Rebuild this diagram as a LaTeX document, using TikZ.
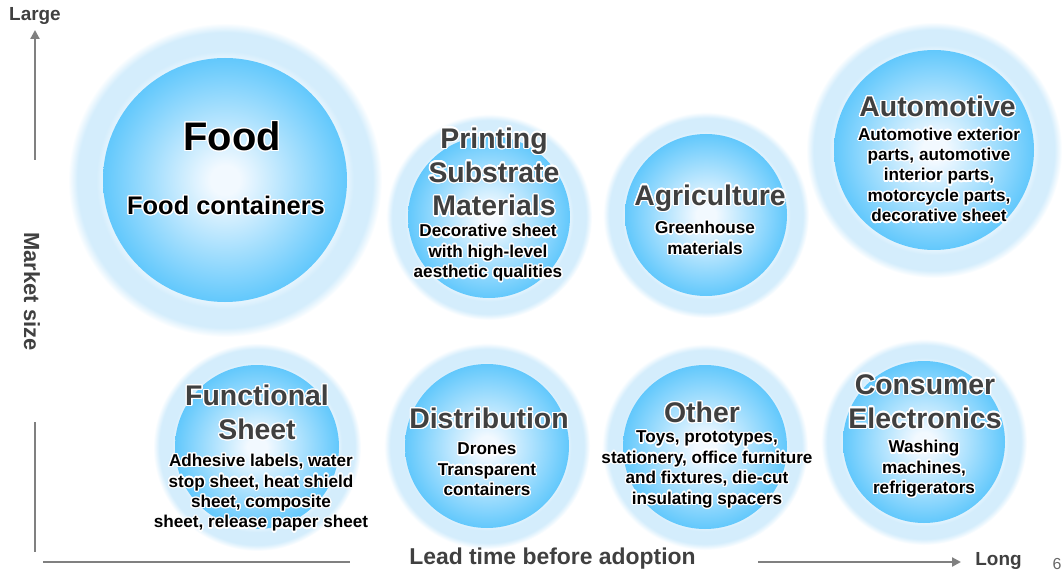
\documentclass[tikz,border=0pt]{standalone}
\usepackage{fontspec}
\setmainfont{Liberation Sans}
\usepackage{contour}
\contourlength{1.3pt}
\contournumber{20}
\usetikzlibrary{arrows.meta}
\definecolor{ballc}{RGB}{242,249,255}
\definecolor{balle}{RGB}{98,200,252}
\definecolor{ringc}{RGB}{212,237,252}
\definecolor{ringh}{RGB}{236,247,254}
\definecolor{tgray}{RGB}{64,64,64}
\definecolor{axisgray}{RGB}{128,128,128}
\pgfdeclareradialshading{ballshade}{\pgfpoint{0bp}{0bp}}{color(0bp)=(ballc); color(3bp)=(ballc); color(25bp)=(balle); color(50bp)=(balle)}
\pgfdeclareradialshading{ringshade}{\pgfpoint{0bp}{0bp}}{color(0bp)=(white); color(19bp)=(ringh); color(20.5bp)=(ringc); color(23.5bp)=(ringc); color(25bp)=(white); color(50bp)=(white)}
\newcommand\gw[1]{\contour{white}{#1}}
\begin{document}
\begin{tikzpicture}[x=1bp,y=-1bp,
  titlef/.style={font=\fontsize{28.5}{34}\selectfont\bfseries, text=tgray, align=center, inner sep=0pt},
  detailf/.style={font=\fontsize{17.2}{20.5}\selectfont\bfseries, text=black, align=center, inner sep=0pt},
  axislab/.style={font=\fontsize{19}{20}\selectfont\bfseries, text=tgray, inner sep=0pt},
  axisline/.style={draw=axisgray, line width=2.2bp},
  axisarrow/.style={axisline, -{Triangle[length=9bp,width=9bp]}}]
\useasboundingbox (0,0) rectangle (1062,574);
\fill[white] (0,0) rectangle (1062,574);
% circles: name/x/y/outer r
\foreach \n/\cx/\cy/\R in {food/225/180/157, print/489/217/103, agri/706/215/103, auto/934/150/128, func/257/447/104, dist/487/446/103, other/705/447/103, cons/924/442/103}{
  \coordinate (\n) at (\cx,\cy);
  \shade[shading=ringshade] (\n) circle (\R);
}
\foreach \n/\r in {food/122, print/81, agri/81, auto/100, func/82, dist/82, other/82, cons/81}{
  \shade[shading=ballshade] (\n) circle (\r);
}
% texts
\node[titlef, text=black, font=\fontsize{40}{42}\selectfont\bfseries] (foodT) at (232,137) {\gw{Food}};
\node[detailf, font=\fontsize{25.5}{27}\selectfont\bfseries] (foodD) at (226,206) {\gw{Food containers}};

\node[titlef] (printT) at (494,172.5) {\gw{Printing}\\\gw{Substrate}\\\gw{Materials}};
\node[detailf] (printD) at (488,253.5) {\gw{Decorative sheet}\\\gw{with high-level}\\\gw{aesthetic qualities}};

\node[titlef] (agriT) at (710,198.5) {\gw{Agriculture}};
\node[detailf] (agriD) at (705,238.5) {\gw{Greenhouse}\\\gw{materials}};

\node[titlef] (autoT) at (937.5,107) {\gw{Automotive}};
\node[detailf] (autoD) at (939,175.5) {\gw{Automotive exterior}\\\gw{parts, automotive}\\\gw{interior parts,}\\\gw{motorcycle parts,}\\\gw{decorative sheet}};

\node[titlef] (funcT) at (257,413) {\gw{Functional}\\\gw{Sheet}};
\node[detailf] (funcD) at (261,493.5) {\gw{Adhesive labels, water}\\\gw{stop sheet, heat shield}\\\gw{sheet, composite}\\\gw{sheet, release paper sheet}};

\node[titlef] (distT) at (489,419) {\gw{Distribution}};
\node[detailf] (distD) at (487,470) {\gw{Drones}\\\gw{Transparent}\\\gw{containers}};

\node[titlef] (otherT) at (702,413) {\gw{Other}};
\node[detailf] (otherD) at (707,470) {\gw{Toys, prototypes,}\\\gw{stationery, office furniture}\\\gw{and fixtures, die-cut}\\\gw{insulating spacers}};

\node[titlef] (consT) at (925,402) {\gw{Consumer}\\\gw{Electronics}};
\node[detailf] (consD) at (924,469.5) {\gw{Washing}\\\gw{machines,}\\\gw{refrigerators}};

% axes
\coordinate (vtop) at (35,30);
\coordinate (vmid) at (35,160);
\coordinate (vlow1) at (35,422);
\coordinate (vlow2) at (35,552);
\coordinate (h1) at (43,562);
\coordinate (h2) at (350,562);
\coordinate (h3) at (758,562);
\coordinate (h4) at (961,562);
\draw[axisarrow] (vmid) -- (vtop);
\draw[axisline] (vlow1) -- (vlow2);
\draw[axisline] (h1) -- (h2);
\draw[axisarrow] (h3) -- (h4);

\node[axislab] (large) at (35,16) {Large};
\node[axislab, font=\fontsize{22}{24}\selectfont\bfseries, rotate=-90] (msize) at (32,291.5) {Market size};
\node[axislab, font=\fontsize{23}{24}\selectfont\bfseries] (lead) at (552.5,559) {Lead time before adoption};
\node[axislab] (long) at (998.5,561) {Long};
\node[font=\fontsize{16}{18}\selectfont, text=axisgray!80!black, inner sep=0pt] (pg) at (1057,564) {6};
\end{tikzpicture}
\end{document}
